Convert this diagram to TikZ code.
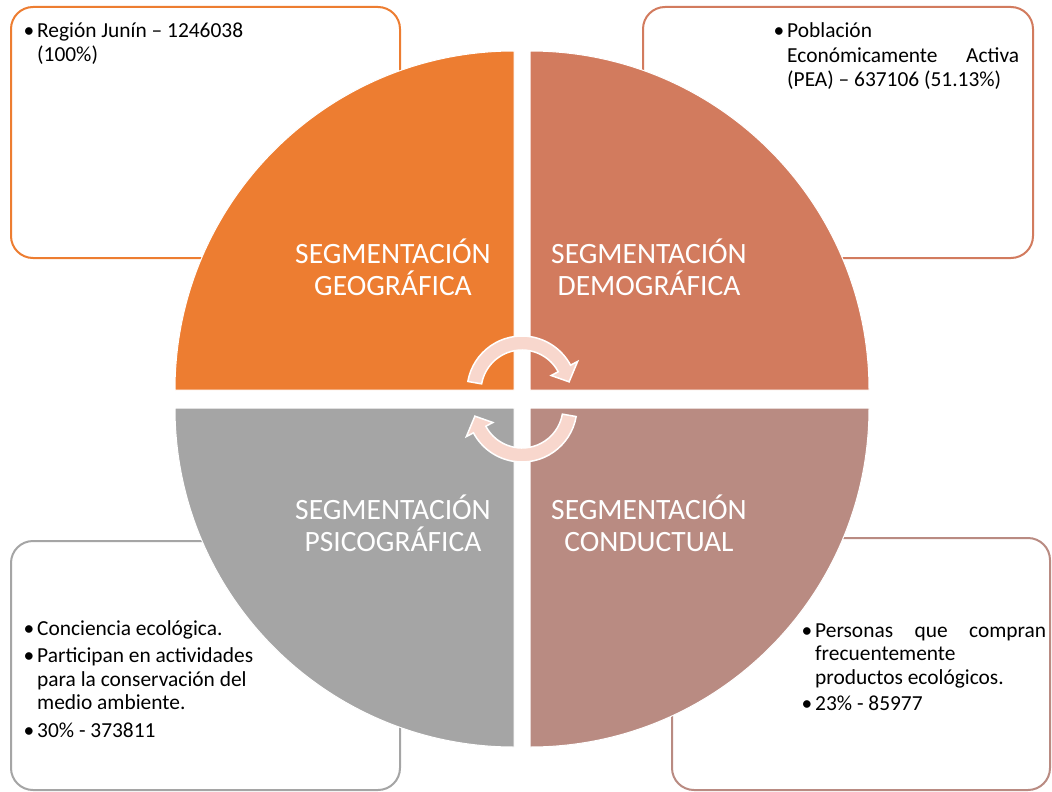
\documentclass[tikz,border=0pt]{standalone}
\usepackage{fontspec}
\setmainfont{Carlito}
\definecolor{cOrange}{RGB}{237,125,49}
\definecolor{cSalmon}{RGB}{210,123,94}
\definecolor{cGrey}{RGB}{165,165,165}
\definecolor{cRose}{RGB}{185,139,130}
\definecolor{cPink}{RGB}{248,215,205}
\tikzset{
  infobox/.style={rounded corners=22pt, line width=2pt, fill=white},
  quarter/.style={draw=white, line width=1pt},
  cyclearrow/.style={fill=cPink, draw=white, line width=1.5pt, line join=miter},
  titletxt/.style={anchor=base, inner sep=0pt, text=white},
  bodytxt/.style={anchor=base west, inner sep=0pt, text=black}
}
\newcommand{\bulletmark}{\leavevmode\llap{•\hspace{3pt}}}
\newcommand{\bodyfnt}{\fontsize{21.4}{23.5}\selectfont}
\newcommand{\titlefnt}{\fontsize{29.5}{32}\selectfont}
\begin{document}
\begin{tikzpicture}[x=1pt,y=-1pt]
\useasboundingbox (0,0) rectangle (1052,792);
% outline boxes
\draw[infobox, draw=cOrange] (11,7) rectangle (400,258);
\draw[infobox, draw=cSalmon] (643,7) rectangle (1033,258);
\draw[infobox, draw=cGrey] (11,541) rectangle (400,790);
\draw[infobox, draw=cRose] (672,538) rectangle (1050,790);
% quarter circles
\draw[quarter, fill=cOrange] (514,390) -- (175,390) arc[start angle=180, end angle=270, radius=339] -- cycle;
\draw[quarter, fill=cSalmon] (530,390) -- (530,51) arc[start angle=270, end angle=360, radius=339] -- cycle;
\draw[quarter, fill=cRose] (530,408) -- (869,408) arc[start angle=0, end angle=90, radius=339] -- cycle;
\draw[quarter, fill=cGrey] (514,408) -- (514,747) arc[start angle=90, end angle=180, radius=339] -- cycle;
% titles
\node[titletxt] (geo) at (393,263) {\parbox[t]{250pt}{\centering\titlefnt SEGMENTACIÓN\\GEOGRÁFICA}};
\node[titletxt] (dem) at (649,263) {\parbox[t]{250pt}{\centering\titlefnt SEGMENTACIÓN\\DEMOGRÁFICA}};
\node[titletxt] (psi) at (393,519) {\parbox[t]{250pt}{\centering\titlefnt SEGMENTACIÓN\\PSICOGRÁFICA}};
\node[titletxt] (con) at (649,519) {\parbox[t]{250pt}{\centering\titlefnt SEGMENTACIÓN\\CONDUCTUAL}};
% cycle arrows
\begin{scope}[shift={(522,391)}]
\draw[cyclearrow] (190:55) arc[start angle=190, end angle=332, radius=55]
  -- (332:63) -- (349:48) -- (332:33) -- (332:41)
  arc[start angle=332, end angle=190, radius=41] -- cycle;
\end{scope}
\begin{scope}[shift={(522,407)}]
\draw[cyclearrow] (10:55) arc[start angle=10, end angle=152, radius=55]
  -- (152:63) -- (169:48) -- (152:33) -- (152:41)
  arc[start angle=152, end angle=10, radius=41] -- cycle;
\end{scope}
% body texts
\node[bodytxt] (geoTxt) at (37,38) {\parbox[t]{240pt}{\raggedright\bodyfnt
  \bulletmark Región Junín – 1246038\\(100\%)}};
\node[bodytxt] (demTxt) at (787,38) {\parbox[t]{240pt}{\raggedright\fontsize{21.4}{24.3}\selectfont
  \bulletmark Población\\\makebox[232pt][s]{Económicamente Activa}\\(PEA) – 637106 (51.13\%)}};
\node[bodytxt] (psiTxt) at (37,635) {\parbox[t]{240pt}{\raggedright\bodyfnt
  \bulletmark Conciencia ecológica.\\[4pt]
  \bulletmark Participan en actividades\\para la conservación del\\medio ambiente.\\[4pt]
  \bulletmark 30\% - 373811}};
\node[bodytxt] (conTxt) at (815,637) {\parbox[t]{240pt}{\raggedright\bodyfnt
  \bulletmark\makebox[231pt][s]{Personas que compran}\\frecuentemente\\productos ecológicos.\\[3pt]
  \bulletmark 23\% - 85977}};
\end{tikzpicture}
\end{document}
